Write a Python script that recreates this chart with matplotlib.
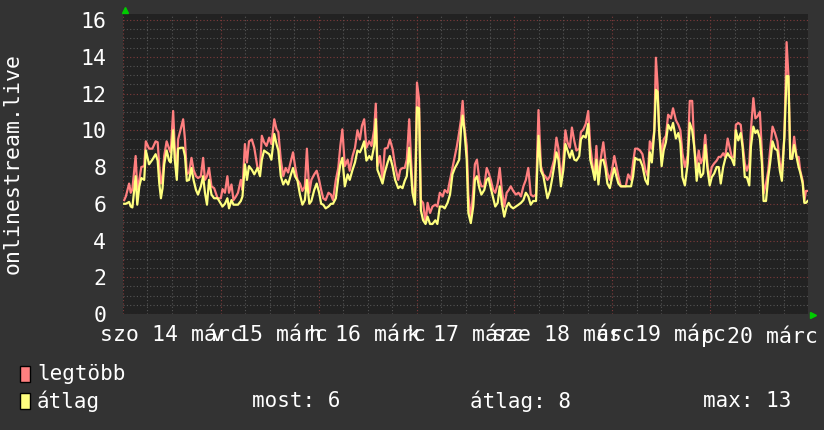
import numpy as np
import matplotlib
matplotlib.use("Agg")
import matplotlib.pyplot as plt
from matplotlib.patches import Rectangle

plt.rcParams['font.family'] = ['DejaVu Sans Mono', 'DejaVu Sans']

# hours since szo 14 márc 00:00
hours = [
    0.3, 0.7, 1.5, 1.9, 2.3, 3.1, 3.5, 4.0, 4.5, 5.2, 5.6, 6.4, 7.2, 8.0, 8.5, 8.9, 9.3, 9.7,
    10.1, 10.7, 11.3, 11.7, 12.3, 12.7, 13.2, 13.5, 14.2, 14.75, 15.2, 15.65, 16.2, 16.8,
    17.3, 17.9, 18.4, 19.1, 19.65, 20.1, 20.6, 21.1, 21.7, 22.35, 23.2, 24.0, 24.4, 25.0,
    25.6, 26.0, 26.6, 27.1, 27.7, 28.2, 28.9, 29.3, 29.9, 30.4, 30.9, 31.6, 32.2, 33.0, 33.6,
    34.05, 34.6, 35.2, 35.85, 36.4, 37.1, 37.65, 38.1, 38.7, 39.3, 39.9, 40.5, 41.2, 41.7,
    42.2, 42.8, 43.4, 44.0, 44.6, 45.1, 45.7, 46.2, 46.9, 47.5, 48.1, 48.6, 49.1, 49.7,
    50.4, 51.0, 51.5, 52.2, 52.8, 53.3, 53.8, 54.4, 55.1, 55.6, 56.3, 56.9, 57.5, 58.1,
    58.6, 59.15, 59.7, 60.4, 60.95, 61.6, 62.0, 62.4, 63.0, 63.65, 64.2, 64.9, 65.45, 66.1,
    66.75, 67.5, 68.0, 68.55, 69.1, 69.6, 70.2, 70.6, 71.0, 71.6, 72.1, 72.6, 73.05, 73.6,
    74.2, 74.7, 75.3, 75.9, 76.6, 77.1, 77.7, 78.4, 78.9, 79.6, 80.2, 80.8, 81.4, 81.9,
    82.45, 82.9, 83.3, 83.7, 84.3, 84.7, 85.3, 85.9, 86.3, 86.8, 87.4, 87.9, 88.6, 89.2,
    89.65, 90.2, 90.8, 91.3, 91.9, 92.4, 92.9, 93.5, 94.1, 94.6, 95.1, 95.7, 96.35, 97.0,
    97.6, 98.2, 98.8, 99.4, 100.0, 100.6, 101.3, 101.9, 102.5, 103.1, 103.55, 104.1,
    104.7, 105.2, 105.75, 106.3, 106.8, 107.4, 108.0, 108.5, 109.0, 109.6, 110.1, 110.7,
    111.2, 111.9, 112.3, 112.9, 113.5, 114.1, 114.6, 115.2, 115.7, 116.1, 116.6, 117.2,
    117.8, 118.3, 118.8, 119.4, 119.9, 120.5, 121.0, 121.5, 122.1, 122.8, 123.3, 123.9,
    124.6, 125.1, 125.6, 126.2, 126.8, 127.4, 128.1, 128.7, 129.2, 129.7, 130.3, 130.7,
    131.1, 131.5, 132.1, 132.6, 133.15, 133.7, 134.4, 134.9, 135.6, 136.2, 136.7, 137.2,
    137.8, 138.5, 139.0, 139.6, 140.1, 140.7, 141.2, 141.7, 142.3, 142.8, 143.4, 143.9,
    144.4, 145.0, 145.6, 146.1, 146.6, 147.2, 147.7, 148.3, 148.85, 149.3, 149.9, 150.3,
    150.9, 151.5, 151.95, 152.5, 153.0, 153.6, 154.0, 154.6, 155.1, 155.6, 156.2, 156.7,
    157.1, 157.7, 158.25, 158.7, 159.3, 159.9, 160.5, 161.1, 161.6, 162.2, 162.75, 163.2,
    163.65, 164.1, 164.6, 165.2, 165.7, 166.1, 166.7, 167.1, 167.5, 167.9,
]

legtobb = [
    6.2, 6.4, 7.1, 6.6, 6.8, 8.6, 6.8, 7.3, 8.0, 8.05, 9.4, 9.0, 9.0, 9.4, 9.35, 8.05, 7.1, 7.5,
    8.6, 9.4, 9.0, 8.8, 11.05, 9.0, 7.5, 9.5, 10.1, 10.6, 9.5, 7.6, 7.7, 8.5,
    7.85, 7.5, 7.4, 7.5, 8.5, 7.3, 7.5, 7.95, 6.95, 6.85, 6.3, 6.3, 6.8, 6.6,
    7.5, 6.6, 7.05, 6.2, 6.4, 6.6, 7.3, 6.75, 9.25, 8.25, 9.4, 9.5, 9.05, 7.95, 7.95,
    9.7, 9.35, 9.15, 9.6, 9.25, 10.6, 10.05, 9.9, 8.4, 7.5, 7.95, 7.7, 8.35, 8.8,
    8.05, 7.3, 7.1, 6.7, 6.95, 9.0, 6.6, 7.3, 7.6, 7.8, 7.3, 6.75, 6.3, 6.2,
    6.6, 6.5, 6.2, 7.3, 7.95, 9.15, 10.05, 8.05, 8.4, 7.8, 8.6, 9.05, 10.0, 9.5,
    10.25, 10.6, 9.05, 9.4, 9.15, 10.05, 11.45, 8.05, 8.6, 7.3, 9.0, 9.05, 9.5, 9.0,
    8.05, 7.3, 7.85, 7.95, 7.95, 8.4, 10.6, 8.6, 6.95, 6.05, 12.6, 11.7, 6.2, 6.05,
    4.95, 6.05, 5.5, 5.85, 5.95, 5.85, 6.6, 6.4, 6.75, 6.6, 7.3, 7.95, 8.6, 9.15,
    9.9, 10.6, 11.6, 10.25, 9.15, 6.5, 5.1, 6.75, 8.15, 8.4, 7.3, 6.95, 6.95, 7.95,
    7.7, 7.3, 6.75, 6.6, 7.1, 7.95, 6.75, 5.85, 6.6, 6.75, 6.95, 6.7, 6.5, 6.6,
    6.4, 6.95, 7.3, 7.95, 6.5, 6.4, 6.5, 11.1, 8.05, 7.6, 7.5, 7.3,
    7.5, 7.95, 8.4, 9.6, 9.0, 7.3, 8.4, 10.0, 9.35, 9.05, 10.15, 9.4,
    8.9, 9.0, 9.9, 10.05, 10.35, 11.05, 9.15, 8.05, 7.7, 9.15, 7.3, 8.5,
    9.35, 8.4, 7.7, 7.3, 7.8, 8.6, 8.05, 7.5, 6.95, 6.95, 6.95, 7.6,
    7.3, 8.25, 9.0, 9.0, 8.9, 8.7, 7.85, 7.5, 9.4, 9.0, 10.0, 13.95,
    12.5, 9.95, 8.6, 9.5, 9.7, 10.85, 10.65, 11.2, 10.55, 10.3, 10.0, 8.75,
    8.0, 8.65, 11.6, 11.6, 9.1, 8.0, 8.9, 8.2, 8.55, 9.75, 8.0, 7.45,
    8.0, 8.2, 8.35, 8.55, 8.55, 8.75, 8.55, 9.55, 9.0, 8.55, 8.55, 10.3,
    10.4, 10.3, 9.3, 8.2, 7.8, 8.2, 10.0, 11.75, 10.65, 10.75, 11.0, 8.75,
    6.55, 7.1, 7.8, 8.9, 10.2, 9.85, 9.4, 8.2, 7.8, 9.65, 14.8, 12.95,
    8.45, 8.45, 9.65, 8.55, 8.55, 7.8, 7.25, 6.15, 6.7, 6.7,
]

atlag = [
    6.0, 6.0, 6.1, 5.85, 5.8, 7.5, 5.95, 6.95, 7.4, 7.3, 8.9, 8.15, 8.4, 8.7, 8.35, 7.1, 6.3, 6.85,
    8.15, 8.9, 8.35, 8.25, 10.0, 8.4, 7.3, 9.0, 9.05, 9.05, 8.6, 7.25, 7.3, 7.95,
    7.3, 6.75, 6.5, 6.95, 7.5, 6.6, 5.95, 7.3, 6.5, 6.3, 6.3, 6.0, 5.85, 6.0,
    6.3, 5.75, 6.2, 5.95, 5.95, 5.95, 6.15, 6.4, 8.15, 7.3, 8.05, 7.85, 7.6, 7.95, 7.5,
    8.4, 8.9, 8.8, 8.7, 8.4, 9.8, 9.25, 8.9, 7.5, 7.05, 7.3, 7.05, 7.6, 7.95,
    7.5, 7.25, 6.5, 5.95, 6.2, 7.3, 6.0, 6.15, 6.75, 7.1, 6.6, 6.0, 5.95, 5.75,
    5.85, 6.0, 6.0, 6.3, 7.4, 8.15, 8.5, 6.95, 7.6, 7.3, 7.85, 8.25, 8.9, 8.8,
    9.05, 9.4, 8.35, 8.6, 8.4, 9.15, 10.6, 7.85, 7.5, 7.1, 7.7, 8.25, 8.6, 8.05,
    7.3, 6.85, 6.95, 6.85, 7.25, 7.5, 9.05, 7.8, 6.6, 5.95, 11.25, 11.2, 5.65, 5.1,
    4.9, 5.3, 4.9, 4.9, 5.1, 4.9, 5.85, 5.85, 5.75, 6.05, 6.5, 7.6, 7.95, 8.15,
    8.4, 10.05, 10.8, 10.05, 8.4, 5.5, 4.95, 5.85, 7.3, 7.5, 6.85, 6.5, 6.75, 7.3,
    7.4, 6.85, 6.3, 5.85, 6.05, 6.95, 6.05, 5.3, 5.85, 6.05, 5.85, 5.75, 5.85, 5.95,
    6.05, 6.2, 6.6, 6.4, 5.95, 6.15, 6.15, 9.7, 7.8, 7.5, 6.95, 6.3,
    6.7, 7.3, 8.05, 8.8, 8.4, 6.95, 7.85, 9.25, 8.9, 8.5, 8.9, 8.4,
    8.35, 8.6, 9.5, 9.7, 9.6, 10.35, 8.4, 7.85, 7.3, 8.4, 7.05, 8.35,
    8.4, 7.95, 7.1, 6.85, 7.4, 7.95, 7.5, 7.1, 6.95, 6.95, 6.95, 6.95,
    6.95, 7.5, 8.5, 8.4, 8.4, 8.05, 7.3, 7.05, 8.8, 8.25, 9.9, 12.2,
    12.1, 9.95, 8.05, 8.9, 9.35, 10.3, 10.0, 10.4, 9.55, 9.85, 9.3, 7.45,
    7.0, 8.2, 10.4, 10.0, 9.1, 7.25, 8.2, 7.45, 7.65, 9.2, 7.8, 7.0,
    7.45, 7.65, 8.0, 8.0, 7.1, 8.0, 8.45, 8.75, 8.55, 8.45, 8.1, 10.0,
    9.45, 9.85, 9.1, 7.45, 7.45, 7.0, 9.1, 10.2, 9.85, 10.0, 9.55, 8.2,
    6.15, 6.15, 7.45, 8.2, 9.4, 9.0, 8.9, 7.8, 7.25, 9.65, 12.95, 12.95,
    8.45, 8.45, 9.2, 8.55, 8.0, 7.7, 7.1, 6.05, 6.05, 6.15,
]

day_labels = ['szo 14 márc', 'v 15 márc', 'h 16 márc', 'k 17 márc',
              'sze 18 márc', 'cs 19 márc', 'p 20 márc']
summary = ['most: 6', 'átlag: 8', 'max: 13']

bg = '#333333'
plot_bg = '#222222'
red = '#ff7f7f'
yellow = '#ffff7f'

fig = plt.figure(figsize=(8.24, 4.30), dpi=100, facecolor=bg)
ax = fig.add_axes([123 / 824, 1 - 314 / 430, 685 / 824, 300 / 430])
ax.set_facecolor(plot_bg)

ax.plot(hours, legtobb, color=red, lw=1.6, zorder=3)
ax.plot(hours, atlag, color=yellow, lw=1.6, zorder=4)

ax.set_xlim(0, 168)
ax.set_ylim(0, 16.33)

# grid: red every day / every 2, gray every 6h / 0.5
ax.set_xticks(np.arange(0, 169, 24))
ax.set_xticklabels([''] * 8)
minor_x = np.arange(0, 169, 6)
ax.set_xticks(minor_x, minor=True)
ax.set_xticklabels([day_labels[i // 4] if i % 4 == 2 else '' for i in range(len(minor_x))],
                   minor=True)
ax.set_yticks(np.arange(0, 17, 2))
ax.set_yticks(np.arange(0, 16.4, 0.5), minor=True)

ax.set_axisbelow(True)
ax.grid(which='minor', color='#555555', linestyle=(0, (1, 2)), linewidth=0.8)
ax.grid(which='major', color='#7f3b3b', linestyle=(0, (1, 2)), linewidth=0.8)

ax.tick_params(axis='both', which='both', length=0, colors='white')
ax.tick_params(axis='x', which='minor', labelsize=15.5, pad=8)
ax.tick_params(axis='y', which='major', labelsize=15.5, pad=12)
for s in ax.spines.values():
    s.set_visible(False)

# vertical title on the left
fig.text(13 / 824, 1 - 164 / 430, 'onlinestream.live', color='white', fontsize=15.5,
         rotation=90, ha='center', va='center')

# little green arrows at the axis ends
ax.plot([0.003], [1.013], marker='^', color='#00cc00', ms=4, transform=ax.transAxes, clip_on=False)
ax.plot([1.007], [-0.003], marker='>', color='#00cc00', ms=4, transform=ax.transAxes, clip_on=False)

# legend
fig.add_artist(Rectangle((20 / 824, 1 - 382 / 430), 10 / 824, 16 / 430,
                         facecolor=red, edgecolor='black', lw=1, transform=fig.transFigure))
fig.add_artist(Rectangle((20 / 824, 1 - 409 / 430), 10 / 824, 16 / 430,
                         facecolor=yellow, edgecolor='black', lw=1, transform=fig.transFigure))
fig.text(37 / 824, 1 - 374 / 430, 'legtöbb', color='white', fontsize=15, va='center')
fig.text(37 / 824, 1 - 401 / 430, 'átlag', color='white', fontsize=15, va='center')
for x, s in zip([252, 470, 703], summary):
    fig.text(x / 824, 1 - 401 / 430, s, color='white', fontsize=15, va='center')

fig.savefig('out.png', dpi=100, facecolor=bg)
